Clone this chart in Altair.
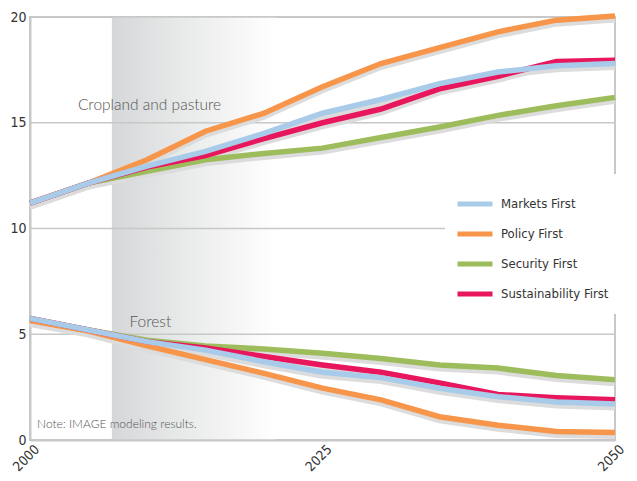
import altair as alt
import pandas as pd

years = [2000, 2005, 2010, 2015, 2020, 2025, 2030, 2035, 2040, 2045, 2050]
scenarios = ["Markets First", "Policy First", "Security First", "Sustainability First"]
colors = ["#a9cbea", "#f7964a", "#9dbd5c", "#e8175d"]

cropland = {
    "Markets First":        [11.2, 12.15, 12.95, 13.65, 14.5, 15.45, 16.1, 16.85, 17.4, 17.7, 17.8],
    "Policy First":         [11.2, 12.15, 13.25, 14.6, 15.45, 16.7, 17.8, 18.55, 19.3, 19.85, 20.05],
    "Security First":       [11.2, 12.15, 12.7, 13.25, 13.55, 13.8, 14.3, 14.8, 15.35, 15.8, 16.2],
    "Sustainability First": [11.2, 12.15, 12.9, 13.45, 14.25, 15.0, 15.65, 16.6, 17.2, 17.9, 17.95],
}
forest = {
    "Markets First":        [5.75, 5.2, 4.65, 4.25, 3.7, 3.2, 2.95, 2.45, 2.05, 1.8, 1.7],
    "Policy First":         [5.65, 5.15, 4.45, 3.8, 3.15, 2.45, 1.9, 1.1, 0.7, 0.4, 0.35],
    "Security First":       [5.75, 5.2, 4.72, 4.45, 4.3, 4.1, 3.85, 3.55, 3.4, 3.05, 2.85],
    "Sustainability First": [5.75, 5.2, 4.65, 4.35, 3.95, 3.55, 3.2, 2.7, 2.15, 2.0, 1.9],
}

grid_values = [0, 5, 10, 15, 20]
x_ticks = [2000, 2025, 2050]

ann_text = ["Cropland and pasture", "Forest", "Note: IMAGE modeling results."]
ann_x = [2004.1, 2008.5, 2000.6]
ann_y = [15.85, 5.6, 0.75]
ann_size = [15.5, 15.5, 12]

shade_start, shade_end = 2007, 2021

COND = "DejaVu Sans Condensed"

rows = []
for land, table in (("Cropland", cropland), ("Forest", forest)):
    for s in scenarios:
        for yr, v in zip(years, table[s]):
            rows.append({"year": yr, "value": v, "scenario": s, "land": land})
df = pd.DataFrame(rows)

xs = alt.Scale(domain=[2000, 2050], nice=False, zero=False)
ys = alt.Scale(domain=[0, 20], nice=False)

x_enc = alt.X("year:Q", scale=xs, axis=alt.Axis(
    values=x_ticks, format="d", labelAngle=315, labelAlign="right", labelBaseline="top",
    ticks=False, grid=False, title=None, domainColor="#c8c8c8", domainWidth=2,
    labelFont=COND, labelFontSize=13.5, labelColor="#333", labelPadding=2, labelOffset=2))
y_enc = alt.Y("value:Q", scale=ys, axis=alt.Axis(
    values=grid_values, ticks=False, grid=False, title=None, domainColor="#c8c8c8", domainWidth=2,
    labelFont=COND, labelFontSize=14, labelColor="#333", labelPadding=4))

shade = alt.Chart(pd.DataFrame({"x": [shade_start], "x2": [shade_end], "y": [0], "y2": [20]})).mark_rect(
    fill=alt.Gradient(gradient="linear", x1=0, x2=1, y1=0, y2=0,
                      stops=[alt.GradientStop(color="#d6d7d9", offset=0),
                             alt.GradientStop(color="#e9eaea", offset=0.45),
                             alt.GradientStop(color="#ffffff", offset=1)])
).encode(x=alt.X("x:Q", scale=xs), x2="x2:Q", y=alt.Y("y:Q", scale=ys), y2="y2:Q")

grid = alt.Chart(pd.DataFrame({"v": grid_values})).mark_rule(color="#c8c8c8", strokeWidth=1.5).encode(
    y=alt.Y("v:Q", scale=ys))

shadow = alt.Chart(df).mark_line(color="#dcdcdd", strokeWidth=6, yOffset=3.5, strokeCap="butt").encode(
    x=alt.X("year:Q", scale=xs), y=alt.Y("value:Q", scale=ys), detail=["scenario:N", "land:N"])

color_enc = alt.Color("scenario:N", scale=alt.Scale(domain=scenarios, range=colors),
                      legend=alt.Legend(title=None, orient="none", legendX=415, legendY=157,
                                        symbolType="stroke", symbolStrokeWidth=5, symbolSize=1225,
                                        labelFont=COND, labelFontSize=13,
                                        labelColor="#333", fillColor="white", padding=10,
                                        rowPadding=-5, labelOffset=6))

line_layers = []
for s in ["Policy First", "Security First", "Sustainability First", "Markets First"]:
    line_layers.append(
        alt.Chart(df).transform_filter(alt.datum.scenario == s).mark_line(strokeWidth=5.5, strokeCap="butt").encode(
            x=x_enc, y=y_enc, color=color_enc, detail="land:N"))

ann = pd.DataFrame({"t": ann_text, "x": ann_x, "y": ann_y, "s": ann_size})
texts = alt.Chart(ann).mark_text(align="left", baseline="middle", font="Lato", fontWeight=300,
                                 color="#555").encode(
    x=alt.X("x:Q", scale=xs), y=alt.Y("y:Q", scale=ys), text="t:N",
    size=alt.Size("s:Q", scale=None, legend=None))

chart = alt.layer(shade, grid, shadow, *line_layers, texts).properties(
    width=585, height=423, padding={"left": 22, "top": 9, "right": 14, "bottom": 40},
    autosize=alt.AutoSizeParams(type="none"), background="white"
).configure_view(stroke="#c8c8c8", strokeWidth=2)

chart.save("out.html", embed_options={"renderer": "svg", "actions": False})
